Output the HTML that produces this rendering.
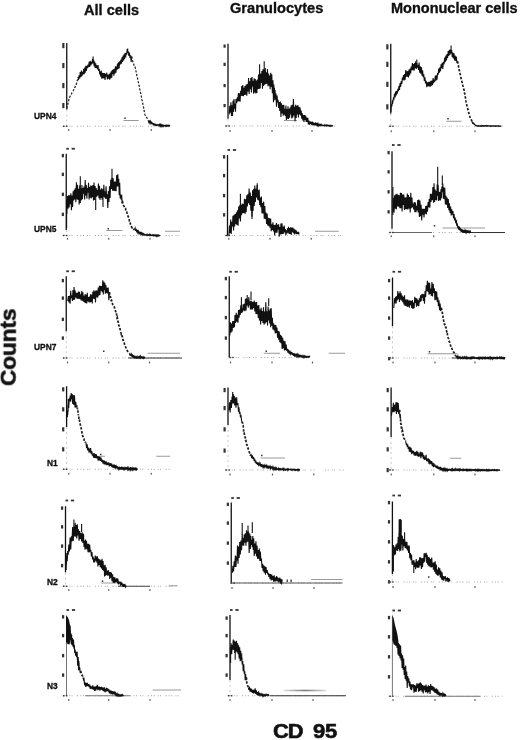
<!DOCTYPE html>
<html><head><meta charset="utf-8"><style>
html,body{margin:0;padding:0;background:#fff;}
body{-webkit-font-smoothing:antialiased;width:520px;height:740px;position:relative;overflow:hidden;font-family:"Liberation Sans",sans-serif;}
.h{position:absolute;font-weight:bold;color:#111;white-space:nowrap;line-height:1;will-change:transform;-webkit-text-stroke:0.35px #111;}
.rl{-webkit-text-stroke:0.3px #111;}
.big{-webkit-text-stroke:0.6px #111;}
svg{position:absolute;left:0;top:0;filter:blur(0.35px);}
.ax{stroke:#111;stroke-width:1.3;}
.axt{stroke:#666;stroke-width:0.9;}
.axf{stroke:#bbb;stroke-width:0.8;stroke-dasharray:2 3;}
.bb{fill:#111;}
.bl{stroke:#aaa;stroke-width:1;stroke-dasharray:1 1.6 1.2 3 1 1.2 1 4.5 1.2 2;}
.br{stroke:#999;stroke-width:1;}
.lb{fill:#333;}
.tk{fill:#555;}
.cv{fill:none;stroke:#111;stroke-width:1.1;stroke-linejoin:miter;}
.cvd{fill:none;stroke:#1a1a1a;stroke-width:1.7;stroke-dasharray:2.4 1.6;}
.cvt{fill:none;stroke:#222;stroke-width:1.25;stroke-dasharray:2.2 1.5;}
.sp{stroke:#111;stroke-width:1.1;}
</style></head><body>
<div class="h" style="left:84px;top:2.8px;font-size:14.6px;">All cells</div>
<div class="h" style="left:230px;top:1px;font-size:14.6px;">Granulocytes</div>
<div class="h" style="left:391px;top:0.7px;font-size:14.5px;">Mononuclear cells</div>
<div class="h rl" style="left:34px;top:112px;font-size:8.4px;">UPN4</div>
<div class="h rl" style="left:34px;top:224.5px;font-size:8.4px;">UPN5</div>
<div class="h rl" style="left:34px;top:343px;font-size:8.4px;">UPN7</div>
<div class="h rl" style="left:46.5px;top:459px;font-size:8.4px;">N1</div>
<div class="h rl" style="left:46.5px;top:577.5px;font-size:8.4px;">N2</div>
<div class="h rl" style="left:46.5px;top:682px;font-size:8.4px;">N3</div>
<div class="h big" style="left:-31.3px;top:335.5px;font-size:22.5px;transform:rotate(-90deg);transform-origin:50% 50%;width:80px;text-align:center;">Counts</div>
<div class="h big" style="left:273.3px;top:720.5px;font-size:20px;letter-spacing:-0.8px;transform:scaleX(1.09);transform-origin:0 0;">CD</div>
<div class="h big" style="left:312.6px;top:720.5px;font-size:20px;letter-spacing:-0.2px;transform:scaleX(1.1);transform-origin:0 0;">95</div>
<svg width="520" height="740" viewBox="0 0 520 740">
<defs><linearGradient id="gbar" x1="0" y1="0" x2="1" y2="0"><stop offset="0" stop-color="#e0e0e0"/><stop offset="0.5" stop-color="#777"/><stop offset="1" stop-color="#e0e0e0"/></linearGradient></defs>
<line x1="66.75" y1="43" x2="66.75" y2="109.5" class="ax"/>
<line x1="66.75" y1="109.5" x2="66.75" y2="126.25" class="axf"/>
<rect x="62.25" y="43" width="2.2" height="5.2" class="lb"/>
<rect x="62.25" y="63" width="2.2" height="5.2" class="lb"/>
<rect x="62.25" y="83" width="2.2" height="5.2" class="lb"/>
<rect x="62.25" y="103" width="2.2" height="5.2" class="lb"/>
<line x1="62.5" y1="126.25" x2="170" y2="126.25" class="bl"/>
<rect x="63" y="125.55" width="1.6" height="1.4" class="lb"/>
<rect x="66" y="125.55" width="1.4" height="1.4" class="lb"/>
<rect x="68.15" y="129.1" width="1.2" height="1.8" class="tk"/>
<rect x="109.4" y="129.1" width="1.2" height="1.8" class="tk"/>
<rect x="150.65" y="129.1" width="1.2" height="1.8" class="tk"/>
<line x1="123.5" y1="120.5" x2="138.75" y2="120.5" class="br"/>
<rect x="124.25" y="117.5" width="1.5" height="1.5" class="lb"/>
<path d="M78.17 77.27L78.5 79.86L79.08 75.35L79.65 78.43L80.22 72.16L80.8 77.12L81.38 70.6L81.95 76.18L82.52 71.88L83.1 74.46L83.64 68.68L84.19 74.11L84.73 67.64L85.27 72.62L85.81 65.77L86.36 70.82L86.9 65.74L87.46 68.22L88.01 64.68L88.57 67.24L89.13 61.76L89.69 66.9L90.24 60.91L90.8 65.48L91.38 61.87L91.95 64.09L92.52 59.11L93.1 63.22L93.62 59.67L94.13 66.3L94.65 61.67L95.17 67.99L95.68 63.27L96.2 67.93L96.8 65.35L97.4 69.1L98 65.02L98.6 70.87L99.2 68.76L99.72 74.37L100.23 71.27L100.75 76.67L101.27 70.65L101.78 78.71L102.3 72.75L102.86 78.31L103.41 72.96L103.97 78.34L104.53 73.11L105.09 79.98L105.64 73.77L106.2 76.53L106.8 72.69L107.4 79.35L108 74.85L108.6 78.56L109.2 74.12L109.72 79.6L110.23 72.87L110.75 78.49L111.27 71.38L111.78 77.78L112.3 70.11L112.82 73.96L113.33 69.38L113.85 75.79L114.37 68.86L114.88 73.62L115.4 66.21L115.92 72.68L116.43 66.64L116.95 69.86L117.47 63.6L117.98 68.97L118.5 62.32L119.1 68.45L119.7 61.23L120.3 64.55L120.9 59.62L121.5 63.64L122.02 57.32L122.53 62.05L123.05 55.48L123.57 60.53L124.08 54.38L124.6 59.07L125.12 52.79L125.63 57.43L126.15 52.97L126.67 54.66L127.18 49.14L127.7 53.14L128.28 51.31L128.85 56.01L129.43 52.63L130 57.86L130.57 55.42L131.15 61.87L131.73 56.52M148.21 120.41L148.75 122.14L149.31 120.29L149.86 122.93L150.42 121.26L150.97 123.55L151.53 122.31L152.08 123.61L152.64 123.18L153.19 124.77L153.75 123.91L154.32 125L154.89 124.07L155.45 125.42L156.02 124.53L156.59 125.46L157.16 124.61L157.73 125.42L158.3 124.63L158.86 125.54L159.43 124.49L160 126.24L160.56 124.54L161.11 126.48L161.67 124.85L162.22 126.38L162.78 125.15L163.33 126.41L163.89 125.26L164.44 125.95L165 125.44L165.56 126.21L166.11 125.13L166.67 126.31L167.22 125.36L167.78 126.12L168.33 125.35L168.89 126.31L169.44 125.49L170 126.18" class="cv"/>
<path d="M66.8 108.41L67.07 107.19L67.33 106.37L67.6 104.88L67.87 104.08L68.13 102.84L68.4 101.46L68.67 100.73L68.93 99.17L69.2 98.43L69.72 97.04L70.23 96.02L70.75 95.32L71.27 94.69L71.78 92.96L72.3 92.02L72.86 91.33L73.41 90.55L73.97 89.08L74.53 87.8L75.09 87.28L75.64 85.25L76.2 84.96L76.53 83.25L76.86 81.89L77.19 80.67L77.51 79.87L77.84 79.89L78.17 77.27M131.73 56.52L132.3 59.66L132.69 61.29L133.08 62.15L133.46 62.48L133.85 64.98L134.24 65.71L134.62 66.96L135.01 66.99L135.4 68.27L135.64 69.15L135.88 70.99L136.11 71.59L136.35 72.55L136.59 73.95L136.82 75.55L137.06 76.56L137.3 77.11L137.54 78.11L137.78 79.98L138.01 80.74L138.25 81.98L138.49 82.47L138.72 83.55L138.96 85.28L139.2 86.13L139.42 86.86L139.64 88.81L139.86 89.59L140.08 90.85L140.3 91.22L140.52 93.08L140.74 93.37L140.96 95.26L141.18 95.93L141.4 96.91L141.62 98.21L141.84 99.67L142.06 100.09L142.28 101.04L142.5 102.53L142.73 103.37L142.95 104.38L143.18 105.57L143.41 106.6L143.64 107.88L143.86 109.13L144.09 110.26L144.32 111.85L144.55 112.52L144.77 113.86L145 114.68L145.54 115.74L146.07 116.3L146.61 117.42L147.14 118.07L147.68 119.71L148.21 120.41" class="cvt"/>
<line x1="93.1" y1="56.6" x2="93.1" y2="60" class="sp"/>
<line x1="127.7" y1="48.5" x2="127.7" y2="52" class="sp"/>
<line x1="228" y1="43.75" x2="228" y2="118.75" class="ax"/>
<line x1="228" y1="118.75" x2="228" y2="126" class="axf"/>
<rect x="223.5" y="44.5" width="2.2" height="3.2" class="lb"/>
<rect x="223.5" y="62.75" width="2.2" height="3.2" class="lb"/>
<rect x="223.5" y="84" width="2.2" height="3.2" class="lb"/>
<rect x="223.5" y="104" width="2.2" height="3.2" class="lb"/>
<line x1="225" y1="126" x2="335" y2="126" class="bl"/>
<rect x="225.5" y="125.3" width="1.6" height="1.4" class="lb"/>
<rect x="228.5" y="125.3" width="1.4" height="1.4" class="lb"/>
<rect x="229.4" y="130.1" width="1.2" height="1.8" class="tk"/>
<rect x="271.4" y="130.1" width="1.2" height="1.8" class="tk"/>
<rect x="311.4" y="130.1" width="1.2" height="1.8" class="tk"/>
<line x1="284" y1="120.5" x2="297" y2="120.5" class="br"/>
<path d="M229.2 114.4L229.77 105.85L230.35 112.64L230.93 102.31L231.5 115.97L232 105.32L232.5 115.91L233 100.65L233.5 111.9L234 99.14L234.5 108.59L235 103.84L235.5 111.74L236 99.12L236.65 103.16L237.3 97.41L237.86 101.52L238.41 93.09L238.97 101.31L239.53 93.39L240.09 101.81L240.64 90.69L241.2 95.78L241.74 86.05L242.29 96.08L242.83 85.07L243.37 96.14L243.91 87.79L244.46 95.05L245 86.14L245.6 94.64L246.2 84.47L246.8 95.8L247.4 84.1L248 91.46L248.57 78.06L249.14 93.91L249.71 81.36L250.29 89.09L250.86 78.07L251.43 92.58L252 77.11L252.54 86.55L253.09 80.65L253.63 93.8L254.17 78.2L254.71 92.49L255.26 79.09L255.8 93.36L256.34 80.58L256.89 92.98L257.43 79.53L257.97 89.09L258.51 74.52L259.06 88.95L259.6 71.27L260.18 88.38L260.75 73.61L261.32 82.85L261.9 70.91L262.48 88.62L263.05 68.99L263.62 86.02L264.2 69.49L264.74 84.79L265.29 68.1L265.83 84.06L266.37 72.22L266.91 83.77L267.46 69.05L268 86.31L268.53 73.64L269.07 85.64L269.6 75.58L270.13 89.27L270.67 72.66L271.2 87.04L271.77 74.22L272.35 93.2L272.93 80.15L273.5 102.22L273.82 84.62L274.13 97.21L274.45 87.83L274.77 100.24L275.08 89.99L275.4 99.19L275.94 93.5L276.49 106.73L277.03 95.53L277.57 102.28L278.11 99.83L278.66 107.9L279.2 102.16L279.77 110.88L280.35 101.61L280.93 117.05L281.5 103.33L282.07 113.57L282.65 105.06L283.23 115.83L283.8 104.71L284.32 114.81L284.84 108.88L285.37 116.17L285.89 105.42L286.41 119.86L286.93 108.98L287.46 118.62L287.98 106.19L288.5 119.09L289.04 108.9L289.59 117.63L290.13 107.64L290.67 114.46L291.21 105.35L291.76 118.56L292.3 104.89L292.86 117.52L293.41 99L293.97 115.49L294.53 106.75L295.09 121.39L295.64 104.75L296.2 118L296.76 105.65L297.32 114.5L297.88 105.1L298.44 117.45L299 106.68L299.55 114.42L300.1 107.44L300.65 115.51L301.2 110.44L301.75 118.69L302.3 113.17L302.86 120.38L303.41 114.97L303.97 121.9L304.53 115.04L305.09 119.94L305.64 115.45L306.2 121.99L306.74 117.61L307.29 121.96L307.83 117.92L308.37 124.37L308.91 120.49L309.46 124.71L310 121.36L310.57 124.24L311.15 121.8L311.73 124.92L312.3 121.67L312.88 124.31L313.45 123.19L314.03 125.46L314.6 122.91L315.16 125.49L315.73 122.44L316.29 125.57L316.85 123.22L317.42 125.45L317.98 123.55L318.55 125.72L319.11 124.29L319.67 125.5L320.24 124.48L320.8 125.52L321.35 124.49L321.91 125.6L322.46 125.03L323.02 125.6L323.57 125.2L324.13 125.92L324.68 124.87L325.24 125.77L325.79 125.07L326.35 125.88L326.9 124.94L327.45 125.87L328.01 125.19L328.56 125.86L329.12 125.4L329.67 126.17L330.23 125.27L330.78 126.27L331.34 125.52L331.89 126.22L332.45 125.69L333 126.18" class="cv"/>
<line x1="259.6" y1="64.2" x2="259.6" y2="72" class="sp"/>
<line x1="264.2" y1="61.2" x2="264.2" y2="70" class="sp"/>
<line x1="390.75" y1="43.75" x2="390.75" y2="113.75" class="ax"/>
<line x1="390.75" y1="113.75" x2="390.75" y2="126.25" class="axf"/>
<rect x="386.25" y="44.25" width="2.2" height="5.2" class="lb"/>
<rect x="386.25" y="61.75" width="2.2" height="5.2" class="lb"/>
<rect x="386.25" y="81.75" width="2.2" height="5.2" class="lb"/>
<rect x="386.25" y="104.25" width="2.2" height="5.2" class="lb"/>
<line x1="388.75" y1="126.25" x2="502.5" y2="126.25" class="bl"/>
<rect x="389.25" y="125.55" width="1.6" height="1.4" class="lb"/>
<rect x="392.25" y="125.55" width="1.4" height="1.4" class="lb"/>
<rect x="390.65" y="130.35" width="1.2" height="1.8" class="tk"/>
<rect x="433.15" y="130.35" width="1.2" height="1.8" class="tk"/>
<rect x="474.4" y="130.35" width="1.2" height="1.8" class="tk"/>
<line x1="446.25" y1="121.25" x2="461.25" y2="121.25" class="br"/>
<rect x="447.25" y="118" width="1.5" height="1.5" class="lb"/>
<path d="M390.9 111.91L391.38 104.21L391.85 106.42L392.32 101.55L392.8 102.34L393.38 98.4L393.96 99.11L394.54 93.65L395.12 97.51L395.7 91.21L396.24 95.32L396.79 90.79L397.33 93.64L397.87 88.8L398.41 91.28L398.96 85.79L399.5 89.83L400.08 82.96L400.66 86.8L401.24 81.02L401.82 83.9L402.4 77.57L402.96 80.03L403.51 75.17L404.07 80.41L404.63 73.97L405.19 79.68L405.74 70L406.3 76.59L406.84 71.25L407.39 76.65L407.93 70.97L408.47 77.5L409.01 69.58L409.56 75.39L410.1 68.6L410.68 73.43L411.26 66.55L411.84 70.24L412.42 63.05L413 70.12L413.54 64.02L414.09 70.83L414.63 63.07L415.17 68.17L415.71 61.32L416.26 69.07L416.8 63.11L417.38 67.73L417.96 64.9L418.54 69.91L419.12 62.52L419.7 72.74L420.28 66.3L420.86 73.65L421.44 67.17L422.02 75.81L422.6 70.22L423.18 77.29L423.76 74.41L424.34 81.01L424.92 77.19L425.5 83.48L426.13 80.79L426.77 87.1L427.4 82.22L427.98 86.19L428.56 81.75L429.14 86.46L429.72 81.9L430.3 86.68L430.86 80.86L431.41 85.78L431.97 80.51L432.53 85.15L433.09 78.13L433.64 83.11L434.2 79.47L434.76 81.75L435.32 75.66L435.88 80.7L436.44 75.36L437 79.66L437.58 72.93L438.16 74.7L438.74 68.55L439.32 72.81L439.9 67.26L440.48 71.31L441.06 64.28L441.64 68.24L442.22 62.75L442.8 68.99L443.43 61.89L444.07 64.29L444.7 57.49L445.28 62.18L445.86 55.54L446.44 60.56L447.02 53.94L447.6 58.08L448.18 50.93L448.77 56.01L449.35 49.74L449.93 54.65L450.52 49.56L451.1 53.42L451.68 50.06L452.25 57.2L452.82 52.58L453.4 58.5L453.98 53.39L454.56 60.56L455.14 55.5L455.72 61.01L456.3 56.52L456.93 63.05L457.57 61.31M472.03 121.62L472.5 123.24L473.04 122.71L473.57 123.8L474.11 123.47L474.64 124.73L475.18 124.7L475.71 125.67L476.25 125.47L476.81 126.04L477.36 125.72L477.92 126.38L478.47 125.62L479.03 126.16L479.58 125.72L480.14 126.28L480.69 125.76L481.25 126.3L481.81 125.48L482.36 126.15L482.92 125.61L483.47 126.2L484.03 125.59L484.58 126.25L485.14 125.74L485.69 126.02L486.25 125.51L486.81 126.28L487.36 125.61L487.92 126.2L488.47 125.63L489.03 126.08L489.58 125.69L490.14 126.44L490.69 125.81L491.25 126.27L491.81 125.95L492.36 126.18L492.92 125.66L493.47 126.22L494.03 125.68L494.58 126.21L495.14 125.79L495.69 126.29L496.25 125.94L496.81 126.15L497.36 125.72L497.92 126.31L498.47 125.77L499.03 126.41L499.58 126.01L500.14 126.37L500.69 125.94L501.25 126.51" class="cv"/>
<path d="M457.57 61.31L458.2 65.18L458.44 65.64L458.68 67.83L458.93 68.24L459.17 70.06L459.41 70.37L459.65 71.64L459.89 72.61L460.13 73.94L460.38 74.79L460.62 75.72L460.86 77.62L461.1 78.28L461.39 79.39L461.68 80.6L461.97 81.93L462.26 83.03L462.55 84.39L462.84 85.56L463.13 86.41L463.42 88.13L463.71 89.2L464 89.56L464.2 91.44L464.4 92.62L464.6 93.61L464.8 94.07L465 95.87L465.2 96.78L465.4 97.26L465.6 98.37L465.8 100.42L466 101.23L466.2 101.93L466.4 102.89L466.6 104.04L466.8 105.23L467.09 106.83L467.38 107.45L467.67 108.3L467.96 110.1L468.25 111.04L468.54 111.47L468.83 113.24L469.12 114.01L469.41 115.23L469.7 116.17L470.17 117.46L470.63 118.44L471.1 119.56L471.57 120.19L472.03 121.62" class="cvd"/>
<line x1="416.8" y1="59.5" x2="416.8" y2="64" class="sp"/>
<line x1="451.1" y1="45.5" x2="451.1" y2="50" class="sp"/>
<line x1="66.25" y1="153.75" x2="66.25" y2="230" class="ax"/>
<line x1="66.25" y1="230" x2="66.25" y2="235.5" class="axf"/>
<rect x="61.75" y="153.9" width="2.2" height="3.4" class="lb"/>
<rect x="61.75" y="172.65" width="2.2" height="3.4" class="lb"/>
<rect x="61.75" y="192.65" width="2.2" height="3.4" class="lb"/>
<rect x="61.75" y="212.65" width="2.2" height="3.4" class="lb"/>
<rect x="66.25" y="147.85" width="2.6" height="1.8" class="lb"/>
<rect x="71.65" y="147.85" width="3.2" height="1.8" class="lb"/>
<line x1="62.5" y1="235.5" x2="180" y2="235.5" class="bl"/>
<rect x="63" y="234.8" width="1.6" height="1.4" class="lb"/>
<rect x="66" y="234.8" width="1.4" height="1.4" class="lb"/>
<rect x="66.9" y="237.85" width="1.2" height="1.8" class="tk"/>
<rect x="108.15" y="237.85" width="1.2" height="1.8" class="tk"/>
<rect x="149.4" y="237.85" width="1.2" height="1.8" class="tk"/>
<line x1="106.25" y1="230.5" x2="122.5" y2="230.5" class="br"/>
<rect x="107.5" y="228" width="1.5" height="1.5" class="lb"/>
<line x1="165" y1="231.25" x2="180" y2="231.25" class="br"/>
<path d="M66.8 213.97L67.38 195.93L67.96 208.74L68.54 195.19L69.12 207.58L69.7 195.36L70.28 204.31L70.86 193.32L71.44 210.11L72.02 195.4L72.6 207.03L73.14 191.16L73.69 200.51L74.23 189.7L74.77 199.58L75.31 188.19L75.86 202.19L76.4 185.49L76.96 199.31L77.51 184.85L78.07 199.95L78.63 188.89L79.19 204.49L79.74 185.38L80.3 202.92L80.84 188.31L81.39 200.18L81.93 185.05L82.47 199.13L83.01 187.92L83.56 193.69L84.1 186.55L84.66 199.53L85.21 180.08L85.77 195.5L86.33 185.02L86.89 198.68L87.44 188.05L88 192.67L88.54 182.87L89.09 199.41L89.63 187.04L90.17 197.62L90.71 185.48L91.26 198.58L91.8 185.88L92.36 197.14L92.91 185.11L93.47 200.38L94.03 182.64L94.59 199.87L95.14 186.06L95.7 197.04L96.24 187.99L96.79 196.7L97.33 190.17L97.87 195.56L98.41 183.55L98.96 198.26L99.5 185.81L100.04 199.91L100.59 189.49L101.13 197.93L101.67 188.22L102.21 199.62L102.76 189.35L103.3 196.75L103.86 184.88L104.41 197.36L104.97 191.28L105.53 198.78L106.09 186.37L106.64 198.84L107.2 194.33L107.78 207.95L108.36 191.09L108.94 201.86L109.52 186.22L110.1 198.03L110.73 179.74L111.37 189.02L112 177.83L112.58 190.77L113.16 178.22L113.74 190.77L114.32 181.6L114.9 191.02L115.48 181.48L116.06 191.16L116.64 175.15L117.22 186.59L117.8 174.21L118.28 186.43L118.75 178.7L119.22 195.14L119.7 182.66L120.2 198.48L120.7 194.48L121.2 199.8L121.67 194.67L122.13 203.43M134.54 229.71L135.1 228.14L135.64 230.79L136.19 228.75L136.73 232.5L137.27 229.94L137.81 232.65L138.36 231.19L138.9 233.43L139.45 231.6L140.01 234.27L140.56 231.84L141.12 234.26L141.67 232.91L142.23 234.86L142.78 233.52L143.34 234.84L143.89 233.81L144.45 235.07L145 234.67L145.56 235.22L146.11 234.56L146.67 235.5L147.22 234.49L147.78 235.48L148.33 234.69L148.89 235.38L149.44 234.37L150 235.65L150.56 234.68L151.11 235.59L151.67 234.97L152.22 235.41L152.78 234.68L153.33 235.79L153.89 234.77L154.44 235.7L155 234.88L155.56 235.93L156.11 234.95L156.67 236.27L157.22 235L157.78 236.05L158.33 235.06L158.89 236.02L159.44 235.31L160 236.04" class="cv"/>
<path d="M122.13 203.43L122.6 202.29L123.18 204.83L123.76 205.86L124.34 206.84L124.92 208.24L125.5 208.4L125.85 210.64L126.2 211.48L126.55 211.42L126.9 212.59L127.25 214.3L127.6 215.38L127.95 216.01L128.3 216.74L128.66 218.41L129.03 218.98L129.39 220.96L129.75 222.55L130.11 222.32L130.47 224.19L130.84 225.6L131.2 225.66L131.76 227.37L132.31 228.1L132.87 227.79L133.43 228.42L133.99 229.58L134.54 229.71" class="cvd"/>
<line x1="66.6" y1="200" x2="66.6" y2="228" class="sp"/>
<line x1="76.4" y1="182.3" x2="76.4" y2="192" class="sp"/>
<line x1="80.3" y1="176.3" x2="80.3" y2="195" class="sp"/>
<line x1="112" y1="168.7" x2="112" y2="185" class="sp"/>
<line x1="95.7" y1="195" x2="95.7" y2="210" class="sp"/>
<line x1="103" y1="194" x2="103" y2="207" class="sp"/>
<line x1="227.5" y1="155" x2="227.5" y2="236.25" class="ax"/>
<rect x="223" y="155.15" width="2.2" height="3.4" class="lb"/>
<rect x="223" y="173.9" width="2.2" height="3.4" class="lb"/>
<rect x="223" y="193.9" width="2.2" height="3.4" class="lb"/>
<rect x="223" y="213.15" width="2.2" height="3.4" class="lb"/>
<rect x="227.5" y="149.1" width="2.6" height="1.8" class="lb"/>
<rect x="232.9" y="149.1" width="3.2" height="1.8" class="lb"/>
<line x1="225" y1="235.5" x2="342.5" y2="235.5" class="bl"/>
<rect x="225.5" y="234.8" width="1.6" height="1.4" class="lb"/>
<rect x="228.5" y="234.8" width="1.4" height="1.4" class="lb"/>
<rect x="228.15" y="237.85" width="1.2" height="1.8" class="tk"/>
<rect x="269.4" y="237.85" width="1.2" height="1.8" class="tk"/>
<rect x="310.65" y="237.85" width="1.2" height="1.8" class="tk"/>
<line x1="315" y1="231.25" x2="338.75" y2="231.25" class="br"/>
<path d="M228.9 235.81L229.48 225.46L230.06 232.93L230.64 219.41L231.22 233.92L231.8 221.74L232.38 226.53L232.96 215.74L233.54 230.45L234.12 214.81L234.7 226.49L235.26 214.1L235.82 224.05L236.38 212.32L236.94 225.07L237.5 210.38L238.08 225.66L238.66 206.49L239.24 218.56L239.82 204.91L240.4 221.39L240.98 204.95L241.56 215.3L242.14 203.65L242.72 213.24L243.3 203.98L243.88 213.07L244.46 198.72L245.04 213.86L245.62 199.39L246.2 212.13L246.78 195.22L247.36 206.46L247.94 193.96L248.52 203.28L249.1 188.61L249.68 205.01L250.26 192.51L250.84 210.64L251.42 196.11L252 216.65L252.56 190.14L253.12 210.95L253.68 188.85L254.24 205.92L254.8 185.54L255.4 201.88L256 188.89L256.6 197.35L257.2 184.93L257.7 199.76L258.2 190.27L258.7 200.44L259.2 189.56L259.7 204.94L260.26 197.55L260.82 207.21L261.38 196.6L261.94 213.35L262.5 202.94L263.08 213.54L263.66 201.52L264.24 218.8L264.82 206.12L265.4 218.96L265.98 212.44L266.56 223.87L267.14 213.46L267.72 225.51L268.3 217.74L268.88 226.23L269.46 218.23L270.04 227.65L270.62 218.5L271.2 231.32L271.78 224.38L272.36 229.95L272.94 222.4L273.52 231.46L274.1 224.95L274.68 235.52L275.26 224.89L275.84 232.6L276.42 223.13L277 232.67L277.56 224.68L278.12 229.68L278.68 224.29L279.24 236.6L279.8 226.94L280.36 234.45L280.91 223.6L281.47 234.12L282.03 223.39L282.59 234L283.14 226.67L283.7 233.83L284.24 225.62L284.79 232.19L285.33 229.11L285.87 235.29L286.41 230.3L286.96 233.32L287.5 228.21L288.03 232.59L288.57 226.86L289.1 234.02L289.63 227.97L290.17 234.05L290.7 227.23L291.23 235.03L291.77 227.62L292.3 232.11L292.86 227.5L293.41 233.21L293.97 228.71L294.53 234.34L295.09 229.57L295.64 233.76L296.2 230.45L296.78 234.23L297.36 231.85L297.94 234.16L298.52 231.89L299.1 234.48" class="cv"/>
<line x1="240.4" y1="193.8" x2="240.4" y2="205" class="sp"/>
<line x1="257.2" y1="183.3" x2="257.2" y2="190" class="sp"/>
<line x1="252" y1="205" x2="252" y2="219" class="sp"/>
<line x1="392" y1="151.25" x2="392" y2="228.75" class="ax"/>
<line x1="392" y1="228.75" x2="392" y2="232.5" class="axf"/>
<rect x="387.5" y="150.9" width="2.2" height="3.4" class="lb"/>
<rect x="387.5" y="170.15" width="2.2" height="3.4" class="lb"/>
<rect x="387.5" y="190.15" width="2.2" height="3.4" class="lb"/>
<rect x="387.5" y="210.15" width="2.2" height="3.4" class="lb"/>
<rect x="392" y="144.1" width="2.6" height="1.8" class="lb"/>
<rect x="397.4" y="144.1" width="3.2" height="1.8" class="lb"/>
<line x1="388.75" y1="232.5" x2="503.75" y2="232.5" class="bl"/>
<line x1="392" y1="232.5" x2="432" y2="232.5" style="stroke:#666;stroke-width:1"/>
<line x1="462" y1="232.5" x2="505" y2="232.5" style="stroke:#333;stroke-width:1"/>
<rect x="389.25" y="231.8" width="1.6" height="1.4" class="lb"/>
<rect x="392.25" y="231.8" width="1.4" height="1.4" class="lb"/>
<rect x="390.65" y="235.35" width="1.2" height="1.8" class="tk"/>
<rect x="433.15" y="235.35" width="1.2" height="1.8" class="tk"/>
<rect x="474.4" y="235.35" width="1.2" height="1.8" class="tk"/>
<line x1="442.5" y1="228" x2="485" y2="228" class="br"/>
<rect x="433.75" y="225" width="1.5" height="1.5" class="lb"/>
<path d="M392.9 211.61L393.48 197.77L394.06 212.77L394.64 195.23L395.22 208.64L395.8 194.15L396.38 209.39L396.96 193.75L397.54 206.41L398.12 194.67L398.7 206.62L399.26 195.2L399.82 208.21L400.38 192.87L400.94 208.21L401.5 193.14L402.08 211.39L402.66 194.49L403.24 204.98L403.82 194.54L404.4 209.93L404.98 197.64L405.56 209.33L406.14 197.19L406.72 209.33L407.3 193.51L407.88 209.43L408.46 195.08L409.04 208.6L409.62 196.98L410.2 212.56L410.78 192.84L411.36 208.26L411.94 197.45L412.52 207.34L413.1 203.56L413.68 209.44L414.26 202.15L414.84 212.16L415.42 202.57L416 212.27L416.56 205.7L417.12 210.38L417.68 199.95L418.24 212.51L418.8 199.46L419.38 216.91L419.96 200.52L420.54 216.29L421.12 204.67L421.7 220.37L422.28 208.84L422.86 214.73L423.44 208.88L424.02 217.45L424.6 208.84L425.18 213.75L425.76 205.94L426.34 214.51L426.92 205.42L427.5 211.68L428.08 202.09L428.66 207.29L429.24 199L429.82 207.71L430.4 193.8L431.03 202.02L431.67 193.79L432.3 199.99L432.88 187.11L433.46 202.65L434.04 183.16L434.62 202.04L435.2 189.44L435.7 199.85L436.2 191.07L436.7 200.41L437.2 184.38L437.7 195.62L438.16 184.91L438.62 200.86L439.08 191.76L439.54 200.31L440 191.94L440.46 200.36L440.92 189.28L441.38 198.24L441.84 186.51L442.3 192.07L442.8 183.63L443.3 198.84L443.8 187.22L444.3 199.24L444.8 187.67L445.38 204.58L445.96 195.7L446.54 204.79L447.12 197.56L447.7 207.85L448.28 198.92L448.86 210.34L449.44 203.4L450.02 212.85L450.6 206.51L451.18 215.35L451.76 209.35L452.34 214.57L452.92 211.02L453.5 218.27L454.06 214.08L454.62 220.45L455.18 217.64L455.74 223.29L456.3 219.89L456.8 226L457.3 223.2L457.8 228.12L458.3 226.05L458.88 229.92L459.46 226.56L460.04 230.58L460.62 228.38L461.2 232.17L461.74 229L462.29 231.76L462.83 229.55L463.37 232.34L463.91 230.16L464.46 232.5L465 230.26L465.53 232.1L466.05 229.97L466.58 232.21L467.11 230.35L467.64 232.77L468.16 231.01L468.69 232.18L469.22 231.09L469.75 232.52L470.27 231.26L470.8 232.67" class="cv"/>
<line x1="392.9" y1="187" x2="392.9" y2="215" class="sp"/>
<line x1="437.7" y1="166.7" x2="437.7" y2="185" class="sp"/>
<line x1="442.3" y1="175.4" x2="442.3" y2="185" class="sp"/>
<line x1="66.25" y1="276.25" x2="66.25" y2="331.25" class="ax"/>
<line x1="66.25" y1="331.25" x2="66.25" y2="358" class="axf"/>
<rect x="61.75" y="278.9" width="2.2" height="3.4" class="lb"/>
<rect x="61.75" y="296.4" width="2.2" height="3.4" class="lb"/>
<rect x="61.75" y="317.65" width="2.2" height="3.4" class="lb"/>
<rect x="61.75" y="336.4" width="2.2" height="3.4" class="lb"/>
<rect x="66.25" y="270.35" width="2.6" height="1.8" class="lb"/>
<rect x="71.65" y="270.35" width="3.2" height="1.8" class="lb"/>
<line x1="62.5" y1="358" x2="181.25" y2="358" class="bl"/>
<line x1="128" y1="358" x2="182" y2="358" style="stroke:#333;stroke-width:1"/>
<rect x="63" y="357.3" width="1.6" height="1.4" class="lb"/>
<rect x="66" y="357.3" width="1.4" height="1.4" class="lb"/>
<rect x="66.9" y="361.6" width="1.2" height="1.8" class="tk"/>
<rect x="108.15" y="361.6" width="1.2" height="1.8" class="tk"/>
<rect x="148.9" y="361.6" width="1.2" height="1.8" class="tk"/>
<line x1="147.5" y1="353.25" x2="180" y2="353.25" class="br"/>
<rect x="103" y="350.5" width="1.5" height="1.5" class="lb"/>
<path d="M67.8 301.15L68.38 295.94L68.96 302.34L69.54 295.88L70.12 303.68L70.7 290.8L71.26 298.09L71.82 295.26L72.38 300.96L72.94 290.13L73.5 299.86L74.06 287.1L74.61 299.79L75.17 290.55L75.73 297.45L76.29 292.73L76.84 298.44L77.4 292.87L77.94 299.04L78.49 291.42L79.03 298.78L79.57 291.87L80.11 299.15L80.66 294.23L81.2 300.43L81.76 290.92L82.31 300.75L82.87 292.38L83.43 301.71L83.99 295.87L84.54 302.49L85.1 293.97L85.64 303.09L86.19 294.84L86.73 303.51L87.27 292.74L87.81 301.48L88.36 296.98L88.9 302.09L89.46 296.57L90.01 302.56L90.57 294.2L91.13 301.84L91.69 294.66L92.24 303.39L92.8 291.76L93.34 298.62L93.89 290.26L94.43 299.09L94.97 291.32L95.51 302.38L96.06 290.18L96.6 297.1L97.16 290.63L97.71 297.81L98.27 287.48L98.83 295.69L99.39 285.88L99.94 295.09L100.5 285.91L101.08 290.84L101.65 286.06L102.22 292.11L102.8 280.25L103.3 294.4L103.8 281.77L104.3 290.33L104.8 282.74L105.3 293.8L105.88 285.01L106.46 293.31L107.04 287.74L107.62 293.42L108.2 287.54L108.83 300.16L109.47 292.23M129.46 353.28L130 355.65L130.56 353.61L131.11 356.26L131.67 354.41L132.22 356.55L132.78 355.22L133.33 356.92L133.89 355.89L134.44 357.66L135 356.56L135.56 357.77L136.11 356.66L136.67 357.85L137.22 356.49L137.78 357.88L138.33 356.86L138.89 357.9L139.44 356.49L140 358.01L140.56 356.16L141.11 357.81L141.67 356.92L142.22 358.12L142.78 357.08L143.33 358.39L143.89 356.91L144.44 357.91L145 357.13" class="cv"/>
<path d="M109.47 292.23L110.1 296.88L110.46 296.76L110.82 298.04L111.19 300.33L111.55 300.16L111.91 301.41L112.28 302.57L112.64 304.54L113 305.22L113.47 306.51L113.93 306.75L114.4 307.03L114.87 309.65L115.33 310.49L115.8 312.04L116.04 313.15L116.28 312.96L116.53 314.27L116.77 315.1L117.01 317.66L117.25 317.37L117.49 318.46L117.73 320.86L117.97 321.6L118.22 321.73L118.46 324.04L118.7 325.2L119.02 325.83L119.34 326.09L119.67 328.36L119.99 328.91L120.31 330.29L120.63 332.15L120.96 332.87L121.28 334.04L121.6 333.73L121.92 335.28L122.23 336.8L122.55 337.11L122.87 339.93L123.18 339.96L123.5 341.14L123.89 342.26L124.29 343.22L124.68 345.11L125.07 345.72L125.46 346.69L125.86 347.61L126.25 348.19L126.79 349.32L127.32 350.86L127.86 351.6L128.39 352.5L128.93 352.54L129.46 353.28" class="cvd"/>
<line x1="229.25" y1="276.25" x2="229.25" y2="357.5" class="ax"/>
<rect x="224.75" y="276.9" width="2.2" height="3.4" class="lb"/>
<rect x="224.75" y="295.9" width="2.2" height="3.4" class="lb"/>
<rect x="224.75" y="315.9" width="2.2" height="3.4" class="lb"/>
<rect x="224.75" y="336.4" width="2.2" height="3.4" class="lb"/>
<rect x="229.25" y="270.85" width="2.6" height="1.8" class="lb"/>
<rect x="234.65" y="270.85" width="3.2" height="1.8" class="lb"/>
<line x1="228.75" y1="357.5" x2="312.5" y2="357.5" class="bl"/>
<rect x="229.25" y="356.8" width="1.6" height="1.4" class="lb"/>
<rect x="232.25" y="356.8" width="1.4" height="1.4" class="lb"/>
<rect x="229.9" y="361.6" width="1.2" height="1.8" class="tk"/>
<rect x="271.4" y="361.6" width="1.2" height="1.8" class="tk"/>
<rect x="311.9" y="361.6" width="1.2" height="1.8" class="tk"/>
<line x1="263.75" y1="353.25" x2="280" y2="353.25" class="br"/>
<rect x="265.5" y="350.5" width="1.5" height="1.5" class="lb"/>
<line x1="328.75" y1="353.25" x2="345" y2="353.25" class="br"/>
<path d="M229.8 335.57L230.38 322.17L230.96 332.66L231.54 323.59L232.12 331.54L232.7 320.96L233.28 327.96L233.86 321L234.44 327.2L235.02 314.97L235.6 322.88L236.18 312.73L236.76 321.65L237.34 314.88L237.92 322.6L238.5 310.12L239.08 317.68L239.66 309.57L240.24 314.93L240.82 305.28L241.4 312.85L241.98 308.16L242.56 312.32L243.14 304.18L243.72 310.39L244.3 303.89L244.88 311.12L245.46 298.77L246.04 310.44L246.62 298.25L247.2 305.47L247.74 299.59L248.29 307.65L248.83 297.06L249.37 305.39L249.91 301.39L250.46 309.43L251 300.45L251.54 309.47L252.09 301.57L252.63 309.58L253.17 302.16L253.71 307.86L254.26 300.63L254.8 311.44L255.38 302.4L255.96 314.02L256.54 301.93L257.12 314.18L257.7 305.64L258.28 317.94L258.86 304.99L259.44 320.48L260.02 309.47L260.6 324.53L261.18 307.8L261.76 320.94L262.34 310.91L262.92 322.98L263.5 307.27L264.08 324.7L264.66 311.52L265.24 323.42L265.82 302.18L266.4 322.18L266.97 311.16L267.55 325.48L268.12 306.64L268.7 320.56L269.2 310.5L269.7 323.43L270.2 308.4L270.7 327.28L271.2 308.17L271.78 325.68L272.36 317.66L272.94 329.56L273.52 323.4L274.1 330.33L274.68 324.89L275.26 333.38L275.84 325.13L276.42 332.94L277 327.47L277.56 337.78L278.12 330.84L278.68 339.75L279.24 331.49L279.8 342.3L280.38 334.87L280.96 343.09L281.54 335.79L282.12 349.09L282.7 337.67L283.28 348.26L283.86 340.84L284.44 350.35L285.02 341.34L285.6 350.21L286.18 344.53L286.76 350.82L287.34 348.81L287.92 352.65L288.5 349.56L289.08 353.56L289.66 351.84L290.24 354.1L290.82 352.16L291.4 354.45L291.94 352.12L292.47 355.02L293.01 353.24L293.55 355.94L294.09 353.12L294.62 355.78L295.16 354.45L295.7 355.89L296.24 354.44L296.77 356.38L297.31 354.33L297.85 356.41L298.39 354.83L298.93 356.89L299.46 355.37L300 356.55L300.56 355.55L301.11 356.76L301.67 355.72L302.22 357.15L302.78 355.82L303.33 357.34L303.89 355.86L304.44 357.33L305 355.97L305.56 357.13L306.11 356.31L306.67 357.34L307.22 356.42L307.78 357.27L308.33 356.44L308.89 357.39L309.44 356.24L310 356.98" class="cv"/>
<line x1="241.4" y1="297.3" x2="241.4" y2="308" class="sp"/>
<line x1="247.2" y1="295" x2="247.2" y2="302" class="sp"/>
<line x1="251" y1="291.5" x2="251" y2="300" class="sp"/>
<line x1="268.7" y1="298.3" x2="268.7" y2="306" class="sp"/>
<line x1="392.5" y1="277.5" x2="392.5" y2="326.25" class="ax"/>
<line x1="392.5" y1="326.25" x2="392.5" y2="358" class="axf"/>
<rect x="388" y="278.9" width="2.2" height="3.4" class="lb"/>
<rect x="388" y="296.4" width="2.2" height="3.4" class="lb"/>
<rect x="388" y="316.4" width="2.2" height="3.4" class="lb"/>
<rect x="388" y="336.4" width="2.2" height="3.4" class="lb"/>
<rect x="388" y="356.9" width="2.2" height="3.4" class="lb"/>
<rect x="392.5" y="270.85" width="2.6" height="1.8" class="lb"/>
<rect x="397.9" y="270.85" width="3.2" height="1.8" class="lb"/>
<line x1="388.75" y1="358" x2="505" y2="358" class="bl"/>
<line x1="452" y1="358" x2="505" y2="358" style="stroke:#333;stroke-width:1"/>
<rect x="389.25" y="357.3" width="1.6" height="1.4" class="lb"/>
<rect x="392.25" y="357.3" width="1.4" height="1.4" class="lb"/>
<rect x="392.4" y="361.6" width="1.2" height="1.8" class="tk"/>
<rect x="434.4" y="361.6" width="1.2" height="1.8" class="tk"/>
<rect x="474.4" y="361.6" width="1.2" height="1.8" class="tk"/>
<line x1="427.5" y1="353.75" x2="457.5" y2="353.75" class="br"/>
<rect x="428.75" y="351" width="1.5" height="1.5" class="lb"/>
<path d="M393.8 308.05L394.38 298.31L394.96 303.38L395.54 296.78L396.12 303.38L396.7 295.93L397.26 300.45L397.82 291.14L398.38 299.3L398.94 293.17L399.5 301.94L400.06 291.21L400.61 299.62L401.17 293.33L401.73 300.74L402.29 295.42L402.84 302.32L403.4 296.8L403.94 304.58L404.49 295.34L405.03 305.91L405.57 299.51L406.11 305.74L406.66 299.5L407.2 306.94L407.76 299.52L408.31 306.41L408.87 300.51L409.43 307.77L409.99 300.33L410.54 305.1L411.1 301.17L411.73 308L412.37 300.09L413 308.93L413.58 302.44L414.16 308.14L414.74 296.71L415.32 303.04L415.9 297.94L416.48 306.64L417.06 298.57L417.64 305.71L418.22 300.38L418.8 306.12L419.38 298.38L419.96 302.29L420.54 295.24L421.12 301.26L421.7 294.17L422.26 297.6L422.82 293.72L423.38 301L423.94 294.24L424.5 303.81L425.08 290.99L425.66 296.93L426.24 285.33L426.82 291.18L427.4 280.87L427.93 291.6L428.47 282.57L429 294.61L429.57 282.79L430.15 293.93L430.73 288.62L431.3 295.87L431.93 282.07L432.57 296.4L433.2 283.81L433.78 292.93L434.36 288.29L434.94 300.15L435.52 290.92L436.1 299.75L436.68 291.43L437.26 301.95L437.84 297.3L438.42 306.32L439 300.26L439.56 310.26L440.12 303.46L440.68 311.05L441.24 307.72M455.71 355.83L456.25 356.87L456.81 356.28L457.36 358.06L457.92 356.09L458.47 358.19L459.03 357.01L459.58 357.91L460.14 356.94L460.69 358.6L461.25 357.47L461.8 358.24L462.34 357.06L462.89 358.58L463.44 357.28L463.98 358.4L464.53 356.92L465.08 358.14L465.62 357.04L466.17 358.57L466.72 357.01L467.27 358.53L467.81 357.46L468.36 358.5L468.91 357.6L469.45 358.64L470 357.52L470.55 358.65L471.09 357.28L471.64 358.57L472.19 357.08L472.73 358.16L473.28 357.08L473.83 358.18L474.38 357.38L474.92 358.33L475.47 357.74L476.02 358.42L476.56 357.68L477.11 358.54L477.66 357.7L478.2 358.69L478.75 357.42L479.3 358.9L479.84 357.37L480.39 358.45L480.94 357.28L481.48 358.46L482.03 357.53L482.58 358.75L483.12 357.33L483.67 358.42L484.22 357.47L484.77 358.61L485.31 357.21L485.86 358.65L486.41 357.61L486.95 358.45L487.5 357.43L488.05 358.61L488.59 357.51L489.14 358.71L489.69 357.3L490.23 358.76L490.78 357.07L491.33 358.57L491.88 357.67L492.42 359.1L492.97 357.66L493.52 358.52L494.06 357.26L494.61 358.21L495.16 357.6L495.7 358.6L496.25 357.42L496.8 358.45L497.34 357.35L497.89 358.6L498.44 357.83L498.98 358.22L499.53 357.07L500.08 358.5L500.62 357.34L501.17 358.32L501.72 357.18L502.27 358.48L502.81 357.57L503.36 358.66L503.91 357.55L504.45 358.72L505 357.31" class="cv"/>
<path d="M441.24 307.72L441.8 309.97L442.02 311.16L442.25 312.36L442.47 313.4L442.69 313.99L442.92 315.88L443.14 318.27L443.36 318.61L443.58 320.44L443.81 321.14L444.03 322.47L444.25 324.04L444.48 324.5L444.7 324.25L445.1 325.33L445.5 326.95L445.9 326.98L446.3 328.73L446.7 331.75L446.94 332.88L447.18 332.36L447.41 334.57L447.65 335.63L447.89 336.94L448.12 337.77L448.36 338.28L448.6 338.55L448.98 341.08L449.36 341.27L449.74 343.02L450.12 343.69L450.5 345.17L451 347.1L451.5 347.06L452 348.81L452.5 350.15L453.04 350.93L453.57 352.23L454.11 352.59L454.64 353.99L455.18 354.66L455.71 355.83" class="cvd"/>
<line x1="66.6" y1="386.25" x2="66.6" y2="427" class="ax"/>
<line x1="66.6" y1="427" x2="66.6" y2="469.25" class="axf"/>
<rect x="62.1" y="387.25" width="2.2" height="4.2" class="lb"/>
<rect x="62.1" y="407.25" width="2.2" height="4.2" class="lb"/>
<rect x="62.1" y="427.25" width="2.2" height="4.2" class="lb"/>
<rect x="62.1" y="447.25" width="2.2" height="4.2" class="lb"/>
<line x1="62.5" y1="469.25" x2="171.25" y2="469.25" class="bl"/>
<rect x="63" y="468.55" width="1.6" height="1.4" class="lb"/>
<rect x="66" y="468.55" width="1.4" height="1.4" class="lb"/>
<rect x="68.15" y="472.85" width="1.2" height="1.8" class="tk"/>
<rect x="109.4" y="472.85" width="1.2" height="1.8" class="tk"/>
<rect x="150.65" y="472.85" width="1.2" height="1.8" class="tk"/>
<line x1="98.75" y1="456.25" x2="105" y2="456.25" class="br"/>
<rect x="100" y="453.75" width="1.5" height="1.5" class="lb"/>
<line x1="156.25" y1="456.25" x2="170" y2="456.25" class="br"/>
<path d="M67.4 417.21L67.58 410.42L67.76 415.14L67.94 404.56L68.12 411.8L68.3 398.89L68.77 407.92L69.23 398.24L69.7 401.26L70.2 395.56L70.7 401.82L71.2 392.97L71.7 399.08L72.2 393.91L72.7 404.02L73.2 394.97L73.83 405.06L74.47 395.35L75.1 407.79L75.73 401.85L76.37 407.23M85.58 442.77L86 443.03L86.58 448.17L87.16 444.25L87.74 450.39L88.32 447.7L88.9 451.26L89.48 449.65L90.06 452.59L90.64 448.11L91.22 454.04L91.8 450.95L92.38 455.72L92.96 453.49L93.54 457.76L94.12 453.1L94.7 457.95L95.28 453.97L95.86 458.21L96.44 454.43L97.02 458.39L97.6 456.02L98.17 460.6L98.74 456.42L99.31 460.5L99.88 456.81L100.45 460.92L101.02 457.65L101.58 461.8L102.15 459.54L102.72 462.1L103.29 460.24L103.86 464.13L104.43 460.62L105 463.53L105.54 462.26L106.07 463.97L106.61 462.52L107.14 465.25L107.68 462.68L108.21 464.76L108.75 462.27L109.29 466.34L109.82 463.24L110.36 465.76L110.89 463.03L111.43 465.88L111.96 464.71L112.5 466.47L113.04 464.86L113.57 467.8L114.11 464.39L114.64 468.15L115.18 465.22L115.71 467.86L116.25 466.23L116.79 468.35L117.32 466.23L117.86 469.41L118.39 466.8L118.93 469.32L119.46 467.73L120 469.7L120.56 467.16L121.11 469.71L121.67 466.68L122.22 469.61L122.78 467.25L123.33 469.32L123.89 467.99L124.44 469.47L125 467.67L125.56 468.94L126.11 467.06L126.67 469.62L127.22 467.62L127.78 469.75L128.33 467.81L128.89 469.62L129.44 468.41L130 470.01L130.54 467.17L131.07 469.52L131.61 468.44L132.14 469.88L132.68 468.05L133.21 469.74L133.75 468.29L134.29 469.49L134.82 468.28L135.36 469.67L135.89 468.18L136.43 469.78L136.96 468.66L137.5 469.79" class="cv"/>
<path d="M76.37 407.23L77 405.41L77.19 406.91L77.38 409.22L77.58 408.72L77.77 410.33L77.96 411.5L78.15 413.55L78.34 415.21L78.53 414.27L78.72 415.57L78.92 418.3L79.11 419.43L79.3 418.93L79.51 420.36L79.72 421.79L79.93 422.47L80.14 423.73L80.36 424.92L80.57 425.57L80.78 426.24L80.99 427.37L81.2 428.59L81.49 429.57L81.78 431.79L82.06 433.1L82.35 433.31L82.64 435.62L82.92 436.64L83.21 436.89L83.5 438.38L83.92 438.69L84.33 441.48L84.75 441.64L85.17 441.49L85.58 442.77" class="cvd"/>
<line x1="228" y1="387.5" x2="228" y2="425" class="ax"/>
<line x1="228" y1="425" x2="228" y2="470" class="axf"/>
<rect x="223.5" y="388" width="2.2" height="4.2" class="lb"/>
<rect x="223.5" y="406" width="2.2" height="4.2" class="lb"/>
<rect x="223.5" y="427.25" width="2.2" height="4.2" class="lb"/>
<rect x="223.5" y="448.5" width="2.2" height="4.2" class="lb"/>
<line x1="225" y1="470" x2="315" y2="470" class="bl"/>
<rect x="225.5" y="469.3" width="1.6" height="1.4" class="lb"/>
<rect x="228.5" y="469.3" width="1.4" height="1.4" class="lb"/>
<rect x="229.4" y="473.6" width="1.2" height="1.8" class="tk"/>
<rect x="271.9" y="473.6" width="1.2" height="1.8" class="tk"/>
<rect x="313.15" y="473.6" width="1.2" height="1.8" class="tk"/>
<line x1="325" y1="470" x2="343.75" y2="470" class="bl"/>
<line x1="260.5" y1="458" x2="285" y2="458" class="br"/>
<rect x="261" y="454.75" width="1.5" height="1.5" class="lb"/>
<path d="M228.9 410.17L229.53 402.35L230.17 412.59L230.8 399.99L231.43 407.85L232.07 396.51L232.7 403.37L233.2 394.02L233.7 403.58L234.2 395.66L234.7 405.47L235.33 397.54L235.97 407.73L236.6 397.26L237.23 405.09L237.87 403.05L238.5 411.7L238.97 407.36L239.45 413.76L239.93 411.76L240.4 416.54L241.03 415.82L241.67 421.66M250.54 455.87L251 453.78L251.63 458.16L252.27 455.29L252.9 458.95L253.47 456.72L254.05 460.84L254.62 458.62L255.2 462.6L255.78 460.68L256.35 463.8L256.93 461.98L257.5 464.99L258.06 462.62L258.61 464.88L259.17 463.03L259.72 465.11L260.28 463.72L260.83 466.71L261.39 464.09L261.94 467.06L262.5 465.38L263.04 467.41L263.57 465.58L264.11 467.23L264.64 465.31L265.18 467.38L265.71 464.88L266.25 467.14L266.79 465.42L267.32 467.39L267.86 465.7L268.39 468.6L268.93 465.95L269.46 468.39L270 466.47L270.54 468.72L271.07 466.94L271.61 468.01L272.14 466.68L272.68 468.83L273.21 467.26L273.75 469.52L274.29 467.92L274.82 469.47L275.36 467.71L275.89 469.32L276.43 467.96L276.96 469.56L277.5 468.75L278.04 469.55L278.59 468.28L279.13 469.98L279.67 468.84L280.22 469.86L280.76 468.69L281.3 469.5L281.85 468.84L282.39 469.66L282.93 468.5L283.48 470.03L284.02 468.59L284.57 469.95L285.11 469.18L285.65 470.1L286.2 469.14L286.74 469.77L287.28 468.84L287.83 470.4L288.37 469L288.91 469.9L289.46 469.2L290 469.7L290.56 469.15L291.11 470.01L291.67 469.29L292.22 470.27L292.78 469.25L293.33 469.94L293.89 469.29L294.44 470.16L295 469.27L295.56 470.38L296.11 469.6L296.67 470.2L297.22 469.37L297.78 470.44L298.33 469.36L298.89 470.65L299.44 469.53L300 470.25" class="cv"/>
<path d="M241.67 421.66L242.3 422.42L242.48 422.63L242.66 423.18L242.85 425.16L243.03 425.29L243.21 426.45L243.39 427.33L243.57 430.01L243.75 431.86L243.94 431.52L244.12 432.51L244.3 433.84L244.54 434.73L244.78 436.71L245.01 437.02L245.25 437.55L245.49 440.28L245.72 440.69L245.96 440.62L246.2 443.36L246.56 444.23L246.91 444.62L247.27 446.25L247.63 447.9L247.99 448.01L248.34 449.17L248.7 450.02L249.16 451.65L249.62 453.01L250.08 454.3L250.54 455.87" class="cvd"/>
<line x1="232.7" y1="392" x2="232.7" y2="400" class="sp"/>
<line x1="391.1" y1="387.5" x2="391.1" y2="437" class="ax"/>
<line x1="391.1" y1="437" x2="391.1" y2="470" class="axf"/>
<rect x="386.6" y="388" width="2.2" height="4.2" class="lb"/>
<rect x="386.6" y="407.25" width="2.2" height="4.2" class="lb"/>
<rect x="386.6" y="427.25" width="2.2" height="4.2" class="lb"/>
<rect x="386.6" y="447.25" width="2.2" height="4.2" class="lb"/>
<rect x="386.6" y="468" width="2.2" height="4.2" class="lb"/>
<line x1="388.75" y1="470" x2="502.5" y2="470" class="bl"/>
<line x1="440" y1="470" x2="500" y2="470" style="stroke:#555;stroke-width:1"/>
<rect x="389.25" y="469.3" width="1.6" height="1.4" class="lb"/>
<rect x="392.25" y="469.3" width="1.4" height="1.4" class="lb"/>
<rect x="390.65" y="473.6" width="1.2" height="1.8" class="tk"/>
<rect x="433.15" y="473.6" width="1.2" height="1.8" class="tk"/>
<rect x="474.4" y="473.6" width="1.2" height="1.8" class="tk"/>
<line x1="450" y1="458.25" x2="461.25" y2="458.25" class="br"/>
<path d="M391.5 415.72L392.13 407.15L392.77 412.28L393.4 402.71L394.03 412.28L394.67 404.77L395.3 411.28L395.88 402.41L396.45 413.99L397.03 402.08L397.6 411.89L398.23 403.09L398.87 413.85M405.32 440.58L405.7 440.91L406.2 444.71L406.7 443.24L407.2 446.96L407.7 444.42L408.2 448.96L408.78 446.66L409.36 451.79L409.94 446.76L410.52 452.28L411.1 447.81L411.68 454.08L412.26 450.37L412.84 453.04L413.42 450.81L414 455.2L414.56 451.73L415.12 456.02L415.68 452.07L416.24 455.31L416.8 450.81L417.38 456.24L417.96 451.94L418.54 456.73L419.12 453.71L419.7 456.51L420.28 451.66L420.86 458.11L421.44 452.38L422.02 456.4L422.6 452.65L423.18 458.77L423.76 454.95L424.34 459.99L424.92 456.51L425.5 459.64L426.06 454.74L426.62 461.17L427.19 458.55L427.75 461.51L428.31 458.4L428.88 463.78L429.44 459.35L430 463.15L430.56 461.68L431.11 464.18L431.67 461.18L432.22 465.92L432.78 462.63L433.33 467.11L433.89 463.38L434.44 466.6L435 464.68L435.56 467.51L436.11 465.49L436.67 468.25L437.22 465.66L437.78 468.83L438.33 466.51L438.89 469.21L439.44 467.01L440 469.17L440.54 467.75L441.07 469.89L441.61 467.67L442.14 469.92L442.68 468.06L443.21 470.45L443.75 468.77L444.29 470.25L444.82 468.58L445.36 470.64L445.89 468.96L446.43 470.35L446.96 468.9L447.5 470.73L448.05 469.39L448.61 470.15L449.16 469.18L449.71 469.96L450.26 469.4L450.82 470.29L451.37 469.19L451.92 470.56L452.47 468.94L453.03 470.36L453.58 469.37L454.13 470.4L454.68 469.2L455.24 470.15L455.79 468.67L456.34 470.14L456.89 469.42L457.45 470.26L458 468.96L458.55 470.2L459.11 469.11L459.66 470.59L460.21 469.07L460.76 470.26L461.32 469.63L461.87 470.23L462.42 469.33L462.97 470.6L463.53 469.26L464.08 470.32L464.63 469.43L465.18 470.34L465.74 469.58L466.29 470.63L466.84 469.29L467.39 470.73L467.95 469.61L468.5 470.49L469.05 469.24L469.61 470.47L470.16 469.51L470.71 470.54L471.26 469.59L471.82 470.59L472.37 469.72L472.92 470.44L473.47 469.66L474.03 470.29L474.58 469.53L475.13 470.63L475.68 469.44L476.24 470.55L476.79 469.61L477.34 470.9L477.89 469.52L478.45 470.74L479 469.47L479.55 470.7L480.11 469.8L480.66 470.8L481.21 469.66L481.76 470.45L482.32 469.53L482.87 470.63L483.42 469.72L483.97 470.69L484.53 469.82L485.08 470.68L485.63 470.02L486.18 470.79L486.74 469.56L487.29 470.76L487.84 469.86L488.39 470.75L488.95 469.54L489.5 470.71L490.05 469.89L490.61 470.67L491.16 469.96L491.71 470.59L492.26 469.65L492.82 470.41L493.37 469.84L493.92 470.49L494.47 469.64L495.03 470.59L495.58 470L496.13 470.67L496.68 469.74L497.24 470.76L497.79 469.83L498.34 470.36L498.89 469.88L499.45 470.37L500 469.83" class="cv"/>
<path d="M398.87 413.85L399.5 411.64L399.61 409.84L399.73 411.57L399.84 412.54L399.96 415.94L400.07 414.36L400.19 418.44L400.3 417.07L400.41 420.39L400.53 420.1L400.64 420.45L400.76 423.93L400.87 422.87L400.99 425.04L401.1 423.68L401.36 427.7L401.61 429.3L401.87 427.42L402.12 430.65L402.38 430.29L402.63 431.1L402.89 432.87L403.14 434.79L403.4 436.59L403.78 437.73L404.17 438.78L404.55 439.11L404.93 440.27L405.32 440.58" class="cvd"/>
<line x1="65.5" y1="506.25" x2="65.5" y2="572.5" class="ax"/>
<line x1="65.5" y1="572.5" x2="65.5" y2="586.25" class="axf"/>
<rect x="61" y="506.4" width="2.2" height="3.4" class="lb"/>
<rect x="61" y="525.15" width="2.2" height="3.4" class="lb"/>
<rect x="61" y="544.4" width="2.2" height="3.4" class="lb"/>
<rect x="61" y="563.9" width="2.2" height="3.4" class="lb"/>
<rect x="65.5" y="499.6" width="2.6" height="1.8" class="lb"/>
<rect x="70.9" y="499.6" width="3.2" height="1.8" class="lb"/>
<line x1="62.5" y1="586.25" x2="177.5" y2="586.25" class="bl"/>
<line x1="118" y1="586.25" x2="150" y2="586.25" style="stroke:#444;stroke-width:1"/>
<rect x="63" y="585.55" width="1.6" height="1.4" class="lb"/>
<rect x="66" y="585.55" width="1.4" height="1.4" class="lb"/>
<rect x="68.15" y="589.1" width="1.2" height="1.8" class="tk"/>
<rect x="108.15" y="589.1" width="1.2" height="1.8" class="tk"/>
<rect x="149.4" y="589.1" width="1.2" height="1.8" class="tk"/>
<line x1="101.25" y1="583" x2="116.25" y2="583" class="br"/>
<rect x="101.75" y="580.5" width="1.5" height="1.5" class="lb"/>
<line x1="168.75" y1="585.75" x2="177.5" y2="585.75" class="br"/>
<path d="M66.2 564.76L66.7 555.6L67.2 561.32L67.7 550.92L68.2 554.74L68.83 544.53L69.47 551.36L70.1 537.58L70.73 549.44L71.37 536.32L72 541.54L72.63 527.06L73.27 540.88L73.9 526.45L74.53 536.55L75.17 522.73L75.8 536.64L76.3 525.13L76.8 538.36L77.3 524.18L77.8 535.57L78.43 529.29L79.07 540.82L79.7 531.11L80.33 538.88L80.97 533.18L81.6 541.43L82.23 532.35L82.87 542.89L83.5 533.76L84 547L84.5 540.76L85 549.72L85.5 539.49L86 548.76L86.5 540.85L87 549.5L87.5 543.74L88 552.3L88.5 543.86L89.08 552.44L89.65 544.55L90.22 551.62L90.8 549.9L91.38 556.48L91.96 552.08L92.54 559.45L93.12 556.47L93.7 562.47L94.2 558.54L94.7 562.51L95.2 555.44L95.7 560.67L96.2 556.47L96.78 562.51L97.35 556.21L97.92 566.54L98.5 558.56L99.1 564.97L99.7 559.22L100.3 567.13L100.9 560.31L101.5 568.41L102.02 558.84L102.53 569.99L103.05 561.11L103.57 570.74L104.08 565.39L104.6 576.37L105.12 564.77L105.63 575.74L106.15 567.24L106.67 574.82L107.18 570.74L107.7 575.67L108.22 570L108.73 575.46L109.25 571.85L109.77 578.88L110.28 572.08L110.8 577.73L111.4 572.53L112 581.32L112.6 574.36L113.2 582.82L113.8 577.15L114.32 582.96L114.83 577.41L115.35 582.46L115.87 578.79L116.38 582.06L116.9 578.02L117.42 583.43L117.93 578.75L118.45 584.41L118.97 581.6L119.48 583.7L120 581.61L120.52 585.67L121.03 581.74L121.55 585.18L122.07 582.94L122.58 586.32L123.1 583.72L123.62 587L124.13 584.1L124.65 587L125.17 585.17L125.68 586.93L126.2 585.31" class="cv"/>
<line x1="66.2" y1="553" x2="66.2" y2="570" class="sp"/>
<line x1="73.9" y1="519.5" x2="73.9" y2="530" class="sp"/>
<line x1="81.6" y1="524" x2="81.6" y2="532" class="sp"/>
<line x1="231.25" y1="502.5" x2="231.25" y2="582.5" class="ax"/>
<rect x="226.75" y="502.65" width="2.2" height="3.4" class="lb"/>
<rect x="226.75" y="521.4" width="2.2" height="3.4" class="lb"/>
<rect x="226.75" y="541.4" width="2.2" height="3.4" class="lb"/>
<rect x="226.75" y="561.4" width="2.2" height="3.4" class="lb"/>
<rect x="231.25" y="497.1" width="2.6" height="1.8" class="lb"/>
<rect x="236.65" y="497.1" width="3.2" height="1.8" class="lb"/>
<line x1="230" y1="583" x2="342.5" y2="583" class="bl"/>
<line x1="231" y1="583" x2="342.5" y2="583" style="stroke:#555;stroke-width:1"/>
<rect x="230.5" y="582.3" width="1.6" height="1.4" class="lb"/>
<rect x="233.5" y="582.3" width="1.4" height="1.4" class="lb"/>
<rect x="231.4" y="587.1" width="1.2" height="1.8" class="tk"/>
<rect x="272.4" y="587.1" width="1.2" height="1.8" class="tk"/>
<rect x="313.4" y="587.1" width="1.2" height="1.8" class="tk"/>
<line x1="311.25" y1="579.5" x2="342.5" y2="579.5" class="br"/>
<path d="M232.3 572.89L232.93 565.87L233.57 571.43L234.2 561.21L234.77 567.06L235.35 555.45L235.93 567.07L236.5 556.62L237 560.7L237.5 545.57L238 563.63L238.57 546.4L239.15 558.06L239.73 541.91L240.3 554.57L240.93 540.55L241.57 550.28L242.2 534.31L242.7 545.45L243.2 537.92L243.7 545.82L244.2 534.44L244.77 542.69L245.35 533.23L245.93 545.63L246.5 530.19L247 542.11L247.5 531.6L248 541.4L248.57 531.47L249.15 553.06L249.73 533.48L250.3 548.9L250.8 535.72L251.3 545.07L251.8 539.89L252.3 547.3L252.78 535.92L253.25 549.86L253.72 538.3L254.2 556.08L254.77 543.45L255.35 553.72L255.93 541.21L256.5 556.58L257.07 545.54L257.65 559.07L258.23 549.97L258.8 558.73L259.3 548.56L259.8 560.98L260.3 551.47L260.88 560.14L261.45 559.44L262.03 567.87L262.6 563.84L263.18 571.09L263.75 565.28L264.32 572.74L264.9 566.23L265.47 574.64L266.05 567.15L266.62 573.01L267.2 570.02L267.77 574.49L268.35 572.72L268.93 576.99L269.5 573.78L270.07 579.1L270.65 574.17L271.23 580.49L271.8 574.5L272.4 579.79L273 576.11L273.6 581.73L274.2 575.27L274.8 581.44L275.4 577.29L276 581.33L276.6 576.16L277.2 580.65L277.72 577.35L278.23 582.31L278.75 578.2L279.27 581.78L279.78 577.58L280.3 583.31L280.93 578.92L281.57 584.46L282.2 579.42" class="cv"/>
<line x1="242.2" y1="523" x2="242.2" y2="535" class="sp"/>
<line x1="248" y1="525.4" x2="248" y2="532" class="sp"/>
<line x1="252.3" y1="522.3" x2="252.3" y2="533" class="sp"/>
<line x1="287.2" y1="579.5" x2="287.2" y2="582" class="sp"/>
<line x1="291.1" y1="579.5" x2="291.1" y2="582" class="sp"/>
<line x1="392.4" y1="501.5" x2="392.4" y2="574" class="ax"/>
<line x1="392.4" y1="574" x2="392.4" y2="582" class="axf"/>
<polygon points="399,520 400.2,518.8 401.6,520 401.8,540 401.2,549 399.4,552 398.8,545" class="bb"/>
<rect x="387.9" y="500.9" width="2.2" height="3.4" class="lb"/>
<rect x="387.9" y="520.15" width="2.2" height="3.4" class="lb"/>
<rect x="387.9" y="540.15" width="2.2" height="3.4" class="lb"/>
<rect x="387.9" y="560.15" width="2.2" height="3.4" class="lb"/>
<rect x="387.9" y="580.15" width="2.2" height="3.4" class="lb"/>
<rect x="392.4" y="494.6" width="2.6" height="1.8" class="lb"/>
<rect x="397.8" y="494.6" width="3.2" height="1.8" class="lb"/>
<line x1="388.75" y1="582" x2="503.75" y2="582" class="bl"/>
<rect x="389.25" y="581.3" width="1.6" height="1.4" class="lb"/>
<rect x="392.25" y="581.3" width="1.4" height="1.4" class="lb"/>
<rect x="392.4" y="586.1" width="1.2" height="1.8" class="tk"/>
<rect x="434.4" y="586.1" width="1.2" height="1.8" class="tk"/>
<rect x="474.4" y="586.1" width="1.2" height="1.8" class="tk"/>
<rect x="428" y="576.25" width="1.5" height="1.5" class="lb"/>
<path d="M393.4 553.45L393.9 546.17L394.4 555.29L394.9 547.24L395.4 554.41L395.97 544.54L396.55 550.46L397.12 543.33L397.7 550.89L398.2 536.71L398.7 549.05L399.2 533.59L399.73 550.08L400.27 534.98L400.8 550.63L401.3 535.06L401.8 544.43L402.3 535.79L402.88 550.56L403.45 538.83L404.03 546.17L404.6 539.47L405.18 547.92L405.75 541.73L406.32 548.76L406.9 541.88L407.47 550.53L408.05 545.57L408.62 553.06L409.2 545.63L409.77 558.17L410.35 552.97L410.93 560.11L411.5 554.49L412.07 564.69L412.65 560.46L413.23 564.67L413.8 560.79L414.4 566.94L415 562.54L415.6 569.25L416.2 559.04L416.77 567.45L417.35 561.38L417.93 568.07L418.5 560.36L419.07 567.36L419.65 557.33L420.23 565.54L420.8 557.55L421.38 569.05L421.95 558.27L422.53 567.22L423.1 558.02L423.62 562.77L424.14 553.3L424.66 561.67L425.18 553.32L425.7 556.94L426.2 552.83L426.7 562.93L427.2 554.9L427.7 564.83L428.27 557.02L428.85 566.2L429.43 557.51L430 566.75L430.57 559.11L431.15 567.59L431.73 557.42L432.3 566.94L432.88 562.83L433.45 569.73L434.03 562.4L434.6 571.6L435.18 561.31L435.75 573.71L436.32 564.57L436.9 575.02L437.47 569.65L438.05 576.03L438.62 567.17L439.2 574.74L439.77 568.33L440.35 577.39L440.93 570.67L441.5 579.35L442.07 572.31L442.65 580.16L443.23 576.1L443.8 580.7L444.32 576.66L444.83 578.95L445.35 576.17L445.87 581.48L446.38 578.11L446.9 580.56L447.42 577.34L447.93 582L448.45 578.18L448.97 580.71L449.48 579.55L450 581.11" class="cv"/>
<line x1="393.4" y1="545" x2="393.4" y2="571.5" class="sp"/>
<line x1="399.2" y1="519.2" x2="399.2" y2="535" class="sp"/>
<line x1="400.8" y1="520" x2="400.8" y2="532" class="sp"/>
<line x1="404.6" y1="532.3" x2="404.6" y2="542" class="sp"/>
<line x1="413.8" y1="560" x2="413.8" y2="573" class="sp"/>
<line x1="66.5" y1="615.5" x2="66.5" y2="696" class="axt"/>
<polygon points="66.2,615.5 67.6,617 69,620 70.2,626 70.8,633 70.6,640 69.5,644.5 67.5,644 66.2,642" class="bb"/>
<rect x="62" y="615.15" width="2.2" height="3.4" class="lb"/>
<rect x="62" y="633.9" width="2.2" height="3.4" class="lb"/>
<rect x="62" y="653.9" width="2.2" height="3.4" class="lb"/>
<rect x="62" y="673.4" width="2.2" height="3.4" class="lb"/>
<rect x="66.5" y="609.1" width="2.6" height="1.8" class="lb"/>
<rect x="71.9" y="609.1" width="3.2" height="1.8" class="lb"/>
<line x1="62.5" y1="695.75" x2="181.25" y2="695.75" class="bl"/>
<line x1="85" y1="695.75" x2="130" y2="695.75" style="stroke:#777;stroke-width:1"/>
<rect x="63" y="695.05" width="1.6" height="1.4" class="lb"/>
<rect x="66" y="695.05" width="1.4" height="1.4" class="lb"/>
<rect x="68.15" y="699.1" width="1.2" height="1.8" class="tk"/>
<rect x="108.15" y="699.1" width="1.2" height="1.8" class="tk"/>
<rect x="149.4" y="699.1" width="1.2" height="1.8" class="tk"/>
<line x1="152.5" y1="690" x2="181.25" y2="690" class="br"/>
<path d="M67.4 634.79L67.9 622.83L68.4 637.94L68.9 626.43L69.43 634.24L69.97 625.58L70.5 639.76L70.88 633.27L71.25 643.87L71.62 634.48L72 645.15L72.5 637.94L73 646.77L73.5 639.61L73.9 648.65L74.3 644.84L74.7 652.86L75.1 649.22L75.6 655.77L76.1 651.7L76.6 657.16L77.13 651.66L77.67 665.78L78.2 657.05L78.58 670.31L78.95 661.37L79.33 670.21L79.7 667.41L80.2 672.86L80.7 670.89M82.92 677.48L83.5 679.66L84.03 678.84L84.57 685.09L85.1 682.42L85.67 686.96L86.25 682.75L86.83 686.25L87.4 682.73L87.98 686.05L88.55 684.01L89.12 687.05L89.7 684.63L90.22 688.99L90.73 685.75L91.25 688.67L91.77 686.59L92.28 689.12L92.8 685.35L93.4 689.72L94 686.48L94.6 691L95.2 686.48L95.8 690.64L96.32 686.16L96.83 689.14L97.35 684.87L97.87 690.19L98.38 686.61L98.9 689.76L99.42 686.55L99.93 690.78L100.45 687L100.97 689.62L101.48 686.89L102 689.86L102.52 687.38L103.03 690.87L103.55 687.54L104.07 691.33L104.58 687.28L105.1 692.31L105.62 688.85L106.13 691.73L106.65 687.88L107.17 690.81L107.68 688.39L108.2 691.71L108.8 689.29L109.4 693.3L110 691.12L110.6 693.01L111.2 690.71L111.76 694.23L112.31 691.04L112.87 693.47L113.43 692.21L113.99 693.75L114.54 692.3L115.1 694.33L115.64 692.93L116.19 695.39L116.73 694.12L117.27 695.64L117.81 693.91L118.36 695.82L118.9 694.68L119.48 696.03L120.05 694.87L120.62 695.97L121.2 694.65L121.78 695.76L122.35 694.66L122.92 695.74L123.5 694.89" class="cv"/>
<path d="M80.7 670.89L81.2 672.87L81.78 675.06L82.35 675.18L82.92 677.48" class="cvd"/>
<line x1="66.6" y1="617" x2="66.6" y2="642" class="sp"/>
<line x1="230" y1="615" x2="230" y2="680" class="ax"/>
<line x1="230" y1="680" x2="230" y2="695.75" class="axf"/>
<rect x="225.5" y="616.4" width="2.2" height="3.4" class="lb"/>
<rect x="225.5" y="633.9" width="2.2" height="3.4" class="lb"/>
<rect x="225.5" y="653.9" width="2.2" height="3.4" class="lb"/>
<rect x="225.5" y="673.4" width="2.2" height="3.4" class="lb"/>
<rect x="230" y="609.1" width="2.6" height="1.8" class="lb"/>
<rect x="235.4" y="609.1" width="3.2" height="1.8" class="lb"/>
<line x1="227.5" y1="695.75" x2="343.75" y2="695.75" class="bl"/>
<line x1="270" y1="695.75" x2="346" y2="695.75" style="stroke:#333;stroke-width:1"/>
<rect x="228" y="695.05" width="1.6" height="1.4" class="lb"/>
<rect x="231" y="695.05" width="1.4" height="1.4" class="lb"/>
<rect x="229.4" y="699.1" width="1.2" height="1.8" class="tk"/>
<rect x="271.4" y="699.1" width="1.2" height="1.8" class="tk"/>
<rect x="312.4" y="699.1" width="1.2" height="1.8" class="tk"/>
<rect x="283.75" y="689.7" width="42.5" height="1.6" fill="url(#gbar)"/>
<path d="M230.6 653.82L231.13 643.26L231.67 654.23L232.2 644.98L232.7 649.68L233.2 639.59L233.7 649.9L234.2 640.51L234.7 652.95L235.2 641.41L235.83 651.56L236.47 640.84L237.1 652.43L237.6 643.18L238.1 654.25L238.6 645.38L239.13 658.49L239.67 647.27L240.2 661.19L240.7 650.71L241.2 660.48L241.7 656.97L242.2 664.41L242.7 661.02L243.2 671.31L243.73 664.37L244.27 673.84L244.8 671.35L245.2 680.22L245.6 674.1L246 680.31L246.4 677.32M248.4 687.6L248.8 689.97L249.4 686.62L250 691.61L250.6 688.37L251.18 691.87L251.75 690.14L252.32 692.83L252.9 689.9L253.47 693.3L254.05 689.49L254.62 693.11L255.2 689.68L255.77 694.01L256.35 690.44L256.93 695.04L257.5 692.1L258.02 695.73L258.53 691.39L259.05 695.55L259.57 692.89L260.08 695.42L260.6 694.22L261.16 695.13L261.71 693.88L262.27 696.06L262.83 694.49L263.39 695.99L263.94 694.74L264.5 695.75L265.07 694.58L265.65 695.82L266.23 694.41L266.8 695.13L267.38 694.64L267.95 695.82L268.53 694.73L269.1 695.71" class="cv"/>
<path d="M246.4 677.32L246.8 683.05L247.2 683.25L247.6 685.56L248 686.49L248.4 687.6" class="cvd"/>
<line x1="230.6" y1="647" x2="230.6" y2="663" class="sp"/>
<line x1="235.2" y1="650" x2="235.2" y2="659.7" class="sp"/>
<line x1="241.7" y1="653.5" x2="241.7" y2="660" class="sp"/>
<line x1="255.2" y1="688.2" x2="255.2" y2="693" class="sp"/>
<line x1="392.4" y1="615.5" x2="392.4" y2="696.6" class="axt"/>
<polygon points="392.4,615.5 393.6,618 395,625 396.6,631 397.8,637 398.4,642 397.6,645 395.5,645.5 393.8,644.5 392.4,640" class="bb"/>
<rect x="387.9" y="615.9" width="2.2" height="3.4" class="lb"/>
<rect x="387.9" y="635.15" width="2.2" height="3.4" class="lb"/>
<rect x="387.9" y="655.15" width="2.2" height="3.4" class="lb"/>
<rect x="387.9" y="675.15" width="2.2" height="3.4" class="lb"/>
<rect x="392.4" y="609.6" width="2.6" height="1.8" class="lb"/>
<rect x="397.8" y="609.6" width="3.2" height="1.8" class="lb"/>
<line x1="388.75" y1="696.25" x2="502.5" y2="696.25" class="bl"/>
<line x1="405" y1="696.25" x2="480" y2="696.25" style="stroke:#777;stroke-width:1"/>
<rect x="389.25" y="695.55" width="1.6" height="1.4" class="lb"/>
<rect x="392.25" y="695.55" width="1.4" height="1.4" class="lb"/>
<rect x="392.4" y="699.1" width="1.2" height="1.8" class="tk"/>
<rect x="434.4" y="699.1" width="1.2" height="1.8" class="tk"/>
<rect x="474.4" y="699.1" width="1.2" height="1.8" class="tk"/>
<path d="M394 637.16L394.5 631.61L395 641.3L395.5 629.69L396 645.8L396.5 632.89L397 647.86L397.5 639.14L398 654.39L398.5 642.9L399 655.86L399.5 644.26L400.03 658.18L400.57 645.5L401.1 660.46L401.6 653.61L402.1 667.97L402.6 655.21L403.13 669.61L403.67 658.55L404.2 674.92L404.7 667.11L405.2 678.9L405.7 665.44L406.2 680.79L406.7 671.52L407.2 687.95L407.73 676.11L408.27 682.63L408.8 678.19L409.38 686.43L409.95 681.54L410.53 689.56L411.1 684.21L411.68 690.08L412.25 684.25L412.82 687.48L413.4 684.3L413.97 692.7L414.55 684.96L415.12 691.63L415.7 685.6L416.27 691.83L416.85 683.27L417.43 688.27L418 683.86L418.57 691.74L419.15 683.35L419.73 691.14L420.3 682.35L420.88 690.29L421.45 683.63L422.03 691.65L422.6 684.96L423.18 693.41L423.75 685.69L424.32 690.17L424.9 685.87L425.47 692.33L426.05 684.5L426.62 692.14L427.2 686.53L427.77 693.41L428.35 685.41L428.93 692L429.5 685.95L430.07 693.94L430.65 684.02L431.23 690.2L431.8 685.82L432.4 690.4L433 686.23L433.6 691.35L434.2 687.31L434.77 692.75L435.35 688.92L435.93 693.19L436.5 688.44L437.07 694.32L437.65 689.6L438.23 694.81L438.8 691.51L439.38 695.6L439.95 692.56L440.53 695.61L441.1 693.04L441.68 695.59L442.25 693.4L442.82 695.6L443.4 693.93L443.92 696.4L444.44 694.46L444.96 695.74L445.48 694.74L446 695.89" class="cv"/>
</svg>
</body></html>
